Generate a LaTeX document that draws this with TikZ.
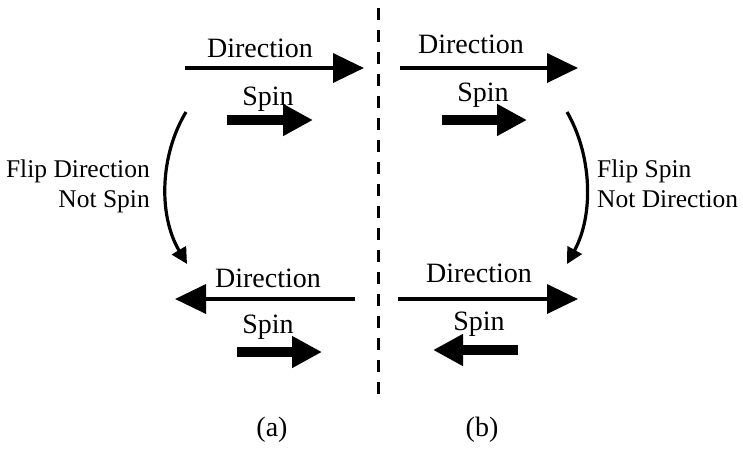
\documentclass[tikz,border=0pt]{standalone}
\usepackage{fontspec}
\setmainfont{Liberation Serif}
\usetikzlibrary{arrows.meta}
\begin{document}
\begin{tikzpicture}[x=1pt,y=-1pt,
  dirarrow/.style={line width=3.6pt,-{Triangle[length=31pt,width=29pt]}},
  spinarrow/.style={line width=10pt,-{Triangle[length=30pt,width=30pt]}},
  fliparrow/.style={line width=3.2pt,-{Triangle[length=16pt,width=16pt]}},
  lbl/.style={font=\fontsize{28}{32}\selectfont,inner sep=0pt,anchor=base},
  side/.style={font=\fontsize{25.5}{30}\selectfont,inner sep=0pt,anchor=base},
  captext/.style={font=\fontsize{28}{32}\selectfont,inner sep=0pt}]
\useasboundingbox (0,0) rectangle (743,448);
% coordinates
\coordinate (tlds) at (185,68);  \coordinate (tlde) at (364,68);
\coordinate (tlss) at (227,120); \coordinate (tlse) at (313,120);
\coordinate (trds) at (400,68);  \coordinate (trde) at (578,68);
\coordinate (trss) at (442,120); \coordinate (trse) at (527,120);
\coordinate (blds) at (355,299); \coordinate (blde) at (175,299);
\coordinate (blss) at (237,352); \coordinate (blse) at (322,352);
\coordinate (brds) at (398,299); \coordinate (brde) at (578,299);
\coordinate (brss) at (518,350); \coordinate (brse) at (433,350);
\coordinate (lfs) at (186,112);  \coordinate (lfe) at (187,264);
\coordinate (rfs) at (567,112);  \coordinate (rfe) at (567,264);
\coordinate (dtop) at (378,8);   \coordinate (dbot) at (378,402);
% divider
\draw[line width=3pt,dash pattern=on 12pt off 10pt] (dtop) -- (dbot);
% arrows
\draw[dirarrow] (tlds) -- (tlde);
\draw[spinarrow] (tlss) -- (tlse);
\draw[dirarrow] (trds) -- (trde);
\draw[spinarrow] (trss) -- (trse);
\draw[dirarrow] (blds) -- (blde);
\draw[spinarrow] (blss) -- (blse);
\draw[dirarrow] (brds) -- (brde);
\draw[spinarrow] (brss) -- (brse);
\draw[fliparrow] (lfs) .. controls (160,155) and (158,215) .. (lfe);
\draw[fliparrow] (rfs) .. controls (592,155) and (594,215) .. (rfe);
% labels
\node[lbl] (tld) at (260,57) {Direction};
\node[lbl] (tls) at (268,105) {Spin};
\node[lbl] (trd) at (471,53) {Direction};
\node[lbl] (trs) at (483,101) {Spin};
\node[lbl] (bld) at (268,287) {Direction};
\node[lbl] (bls) at (268,333) {Spin};
\node[lbl] (brd) at (479,282) {Direction};
\node[lbl] (brs) at (479,330) {Spin};
\node[side,anchor=base east] (lf1) at (150,177) {Flip Direction};
\node[side,anchor=base east] (lf2) at (150,207) {Not Spin};
\node[side,anchor=base west] (rf1) at (597,177) {Flip Spin};
\node[side,anchor=base west] (rf2) at (597,207) {Not Direction};
\node[captext] (capa) at (272,430) {(a)};
\node[captext] (capb) at (482,430) {(b)};
\end{tikzpicture}
\end{document}
